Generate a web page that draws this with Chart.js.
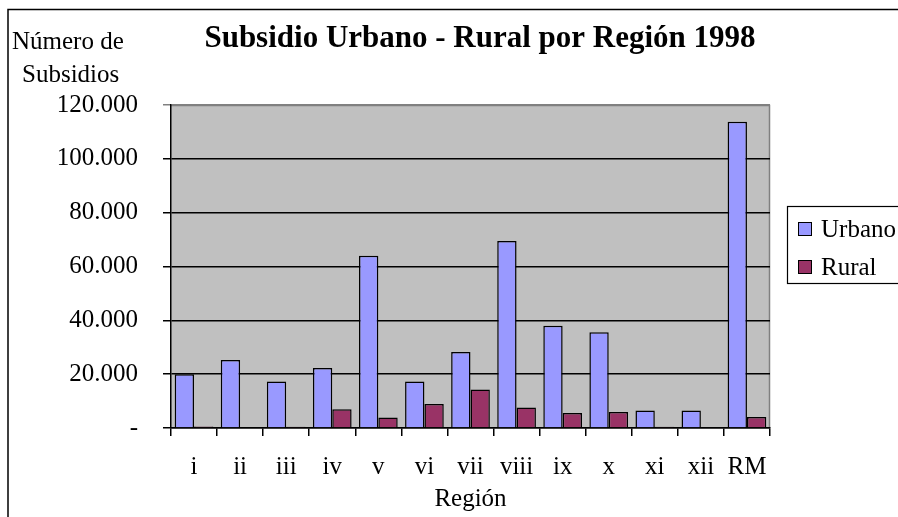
<!DOCTYPE html>
<html>
<head>
<meta charset="utf-8">
<script src="https://cdn.jsdelivr.net/npm/chart.js@4/dist/chart.umd.min.js"></script>
<style>
html,body{margin:0;padding:0;background:#fff;}
#wrap{width:898px;height:517px;position:relative;}
</style>
</head>
<body>
<div id="wrap"><canvas id="c" width="898" height="517"></canvas></div>
<script>
const categories = ['i','ii','iii','iv','v','vi','vii','viii','ix','x','xi','xii','RM'];
const urbano = [20000, 25300, 17300, 22300, 64000, 17300, 28200, 69500, 38000, 35600, 6500, 6500, 113800];
const rural  = [600, 0, 500, 7000, 3900, 8900, 14300, 7600, 5600, 5900, 500, 0, 4100];
const seriesNames = ['Urbano', 'Rural'];
const titleText = 'Subsidio Urbano - Rural por Región 1998';
const yTitleLines = ['Número de', 'Subsidios'];
const xTitleText = 'Región';
const yMax = 120000;
const yStep = 20000;

const SERIF = '"Liberation Serif", "Times New Roman", serif';
const colUrb = '#9999FF';
const colRur = '#993366';

function fmt(v){
  if (v === 0) return '-';
  return String(v).replace(/\B(?=(\d{3})+(?!\d))/g, '.');
}

const decor = {
  id: 'decor',
  beforeDraw(chart){
    const ctx = chart.ctx, a = chart.chartArea;
    ctx.save();
    ctx.fillStyle = '#C0C0C0';
    ctx.fillRect(a.left, a.top, a.right - a.left, a.bottom - a.top);
    ctx.strokeStyle = '#808080';
    ctx.lineWidth = 1.5;
    ctx.beginPath();
    ctx.moveTo(a.left, a.top + 0.5);
    ctx.lineTo(a.right - 0.5, a.top + 0.5);
    ctx.lineTo(a.right - 0.5, a.bottom);
    ctx.stroke();
    ctx.restore();
  },
  afterDraw(chart){
    const ctx = chart.ctx;
    ctx.save();
    ctx.strokeStyle = '#000';
    ctx.lineWidth = 1.5;
    ctx.strokeRect(8, 9.5, 1000, 1000);
    ctx.fillStyle = '#000';
    ctx.font = 'bold 31px ' + SERIF;
    ctx.textAlign = 'center';
    ctx.textBaseline = 'alphabetic';
    ctx.fillText(titleText, 480, 47);
    ctx.font = '25px ' + SERIF;
    ctx.textAlign = 'left';
    ctx.fillText(yTitleLines[0], 12, 49);
    ctx.fillText(yTitleLines[1], 22, 82);
    ctx.lineWidth = 1.2;
    ctx.strokeRect(787.5, 206.5, 200, 77);
    const ds = chart.data.datasets;
    const ys = [229, 267];
    for (let i = 0; i < ds.length; i++) {
      ctx.fillStyle = ds[i].backgroundColor;
      ctx.fillRect(798, ys[i] - 7, 14, 14);
      ctx.strokeStyle = '#000';
      ctx.lineWidth = 1;
      ctx.strokeRect(798.5, ys[i] - 6.5, 13, 13);
      ctx.fillStyle = '#000';
      ctx.font = '25px ' + SERIF;
      ctx.textBaseline = 'middle';
      ctx.fillText(ds[i].label, 821, ys[i] + 1);
    }
    ctx.restore();
  }
};

new Chart(document.getElementById('c'), {
  type: 'bar',
  data: {
    labels: categories,
    datasets: [
      { label: seriesNames[0], data: urbano, backgroundColor: colUrb, borderColor: '#000', borderWidth: 1.5 },
      { label: seriesNames[1], data: rural,  backgroundColor: colRur, borderColor: '#000', borderWidth: 1.5 }
    ]
  },
  options: {
    responsive: false,
    animation: false,
    devicePixelRatio: 1,
    layout: { padding: { left: 0, right: 128, top: 105, bottom: 0 } },
    datasets: { bar: { categoryPercentage: 0.84, barPercentage: 1.0 } },
    plugins: {
      legend: { display: false },
      title: { display: false },
      tooltip: { enabled: false }
    },
    scales: {
      x: {
        offset: true,
        grid: { display: true, drawOnChartArea: false, drawTicks: true, tickLength: 8, color: '#000', lineWidth: 1.5, offset: true },
        border: { display: true, color: '#000', width: 1.5 },
        ticks: { color: '#000', font: { family: SERIF, size: 25 }, padding: 16, maxRotation: 0, autoSkip: false },
        title: { display: true, text: xTitleText, color: '#000', font: { family: SERIF, size: 25 }, padding: { top: 0, bottom: 3 } },
        afterFit(scale){ scale.height = 89; }
      },
      y: {
        min: 0, max: yMax,
        grid: { color: (c) => (c.tick && c.tick.value === yMax) ? '#808080' : '#000', lineWidth: 1.5, tickLength: 8, drawTicks: true },
        border: { display: true, color: '#000', width: 1.5 },
        ticks: { stepSize: yStep, color: '#000', font: { family: SERIF, size: 25 }, padding: 25, callback: (v) => fmt(v) },
        afterFit(scale){ scale.width = 171; }
      }
    }
  },
  plugins: [decor]
});
</script>
</body>
</html>
